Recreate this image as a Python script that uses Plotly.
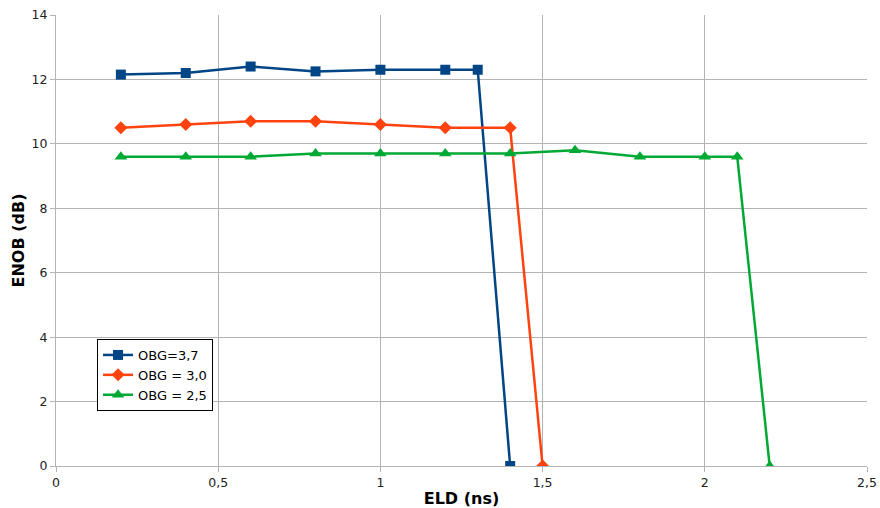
import plotly.graph_objects as go

x_blue = [0.2, 0.4, 0.6, 0.8, 1.0, 1.2, 1.3, 1.4]
y_blue = [12.15, 12.2, 12.4, 12.25, 12.3, 12.3, 12.3, 0]
x_red = [0.2, 0.4, 0.6, 0.8, 1.0, 1.2, 1.4, 1.5]
y_red = [10.5, 10.6, 10.7, 10.7, 10.6, 10.5, 10.5, 0]
x_green = [0.2, 0.4, 0.6, 0.8, 1.0, 1.2, 1.4, 1.6, 1.8, 2.0, 2.1, 2.2]
y_green = [9.6, 9.6, 9.6, 9.7, 9.7, 9.7, 9.7, 9.8, 9.6, 9.6, 9.6, 0]
names = ["OBG=3,7", "OBG = 3,0", "OBG = 2,5"]
x_ticks = [0, 0.5, 1, 1.5, 2, 2.5]
x_tick_labels = ["0", "0,5", "1", "1,5", "2", "2,5"]
y_ticks = [0, 2, 4, 6, 8, 10, 12, 14]

fig = go.Figure()
fig.add_trace(go.Scatter(x=x_blue, y=y_blue, name=names[0], mode="lines+markers",
                         line=dict(color="#004586", width=2.5),
                         marker=dict(symbol="square", size=10, color="#004586")))
fig.add_trace(go.Scatter(x=x_red, y=y_red, name=names[1], mode="lines+markers",
                         line=dict(color="#ff420e", width=2.5),
                         marker=dict(symbol="diamond", size=10, color="#ff420e")))
fig.add_trace(go.Scatter(x=x_green, y=y_green, name=names[2], mode="lines+markers",
                         line=dict(color="#00a933", width=2.5),
                         marker=dict(symbol="triangle-up", size=11, color="#00a933")))

fig.update_layout(
    width=880, height=508,
    margin=dict(l=56, r=13, t=15, b=42),
    plot_bgcolor="white", paper_bgcolor="white",
    font=dict(family="DejaVu Sans", size=12.5, color="#222222"),
    separators=", ",
    showlegend=True,
    legend=dict(x=0.0506, y=0.2816, xanchor="left", yanchor="top",
                bordercolor="#000000", borderwidth=1, bgcolor="white",
                font=dict(size=13, color="#000000"), tracegroupgap=0,
                itemwidth=30),
    xaxis=dict(range=[0, 2.5], tickvals=x_ticks, ticktext=x_tick_labels,
               showgrid=True, gridcolor="#b3b3b3", gridwidth=1,
               showline=True, linecolor="#b3b3b3", linewidth=1,
               ticks="outside", ticklen=5, tickcolor="#b3b3b3",
               zeroline=False, automargin=False,
               title=dict(text="<b>ELD (ns)</b>", font=dict(size=16, color="#000000"), standoff=3)),
    yaxis=dict(range=[0, 14], tickvals=y_ticks,
               showgrid=True, gridcolor="#b3b3b3", gridwidth=1,
               showline=True, linecolor="#b3b3b3", linewidth=1,
               ticks="outside", ticklen=5, tickcolor="#b3b3b3",
               zeroline=False, automargin=False,
               title=dict(text="<b>ENOB (dB)</b>", font=dict(size=16, color="#000000"), standoff=2)),
)

fig.write_html("out.html", config={"displayModeBar": False},
               post_script="document.body.style.margin='0';document.body.style.overflow='hidden';")
